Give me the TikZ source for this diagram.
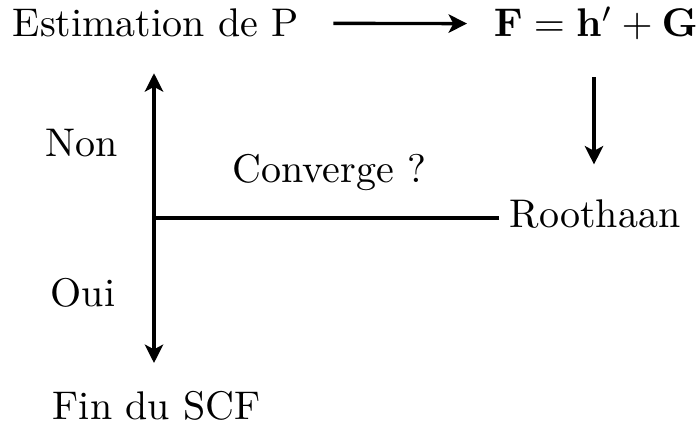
\documentclass[tikz,border=0pt]{standalone}
\usetikzlibrary{arrows.meta}
\begin{document}
\begin{tikzpicture}[x=0.25pt,y=-0.25pt,
  lbl/.style={inner sep=0pt,anchor=base west},
  arr/.style={line width=0.85pt,-{Stealth[length=4.6pt,width=4.6pt,inset=1.2pt]}},
  ln/.style={line width=0.85pt}]
\useasboundingbox (0,0) rectangle (698,427);
\node[lbl] (est) at (12,37) {Estimation de P};
\node[lbl] (F) at (493,37) {$\mathbf{F}=\mathbf{h}'+\mathbf{G}$};
\node[lbl] (roo) at (509,228) {Roothaan};
\node[lbl] (conv) at (232,183) {Converge ?};
\node[lbl] (non) at (45,157) {Non};
\node[lbl] (oui) at (50,307) {Oui};
\node[lbl] (fin) at (52,420) {Fin du SCF};
\coordinate (j) at (154,218);
\coordinate (dx) at (594,0);
\draw[arr,shorten <=8.5pt,shorten >=6.5pt] (est.east) -- (F.west);
\draw[arr,shorten <=9pt,shorten >=8.75pt] (dx |- F.south) -- (dx |- roo.north);
\draw[ln,shorten <=2.5pt] (roo.west |- j) -- (j);
\draw[arr,shorten >=8.75pt] (j) -- (j |- est.south);
\draw[arr,shorten >=7pt] (j) -- (j |- fin.north);
\end{tikzpicture}
\end{document}
